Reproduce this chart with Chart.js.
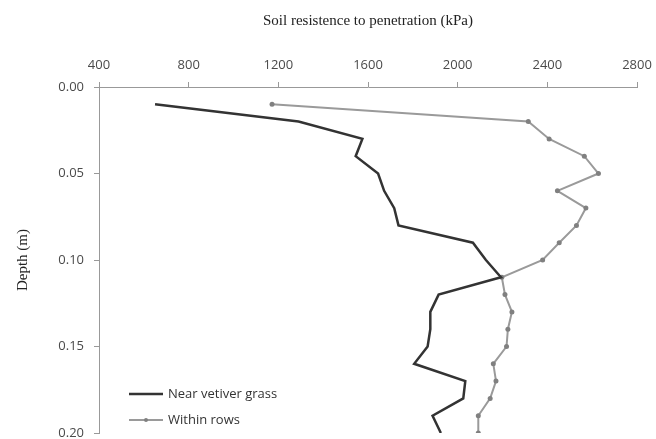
<!DOCTYPE html>
<html>
<head>
<meta charset="utf-8">
<title>Soil resistance profile</title>
<script src="https://cdn.jsdelivr.net/npm/chart.js"></script>
<style>
  html, body { margin: 0; padding: 0; background: #fff; }
  #wrap { width: 656px; height: 439px; }
</style>
</head>
<body>
<div id="wrap"><canvas id="profileChart" width="656" height="439"></canvas></div>
<script>
const depths = [0.01, 0.02, 0.03, 0.04, 0.05, 0.06, 0.07, 0.08, 0.09, 0.10,
                0.11, 0.12, 0.13, 0.14, 0.15, 0.16, 0.17, 0.18, 0.19, 0.20];
const nearVetiver = [650, 1290, 1575, 1545, 1645, 1672, 1717, 1736, 2068, 2126,
                     2193, 1915, 1878, 1878, 1866, 1806, 2034, 2025, 1888, 1925];
const withinRows = [1172, 2315, 2408, 2565, 2628, 2445, 2572, 2530, 2453, 2379,
                    2197, 2211, 2242, 2224, 2218, 2159, 2171, 2145, 2092, 2092];
const seriesNames = ['Near vetiver grass', 'Within rows'];
const xTitle = 'Soil resistence to penetration (kPa)';
const yTitle = 'Depth (m)';

const toPoints = (values) => values.map((v, i) => ({ x: v, y: depths[i] }));

const tickFont = { family: 'Open Sans', size: 13 };
const titleFont = { family: 'Liberation Serif', size: 15 };

// legend sits inside the plot, bottom left
const insideLegend = {
  id: 'insideLegend',
  afterDraw(chart) {
    const ctx = chart.ctx;
    const x0 = 129, x1 = 163;
    const rows = [394, 420];
    ctx.save();
    ctx.font = '13px "Open Sans"';
    ctx.textBaseline = 'middle';
    chart.data.datasets.forEach((ds, i) => {
      const y = rows[i];
      ctx.strokeStyle = ds.borderColor;
      ctx.lineWidth = ds.borderWidth;
      ctx.beginPath();
      ctx.moveTo(x0, y);
      ctx.lineTo(x1, y);
      ctx.stroke();
      if (ds.pointRadius > 0) {
        ctx.fillStyle = ds.pointBackgroundColor;
        ctx.beginPath();
        ctx.arc((x0 + x1) / 2, y, 2, 0, Math.PI * 2);
        ctx.fill();
      }
      ctx.fillStyle = '#333';
      ctx.fillText(ds.label, 168, y);
    });
    ctx.restore();
  }
};

// let end labels hang over the edge instead of shrinking the plot
const noOverhang = (scale) => {
  scale.paddingLeft = 0;
  scale.paddingRight = 0;
  scale.paddingTop = 0;
  scale.paddingBottom = 0;
};

new Chart(document.getElementById('profileChart'), {
  type: 'line',
  data: {
    datasets: [
      {
        label: seriesNames[0],
        data: toPoints(nearVetiver),
        borderColor: '#333333',
        borderWidth: 2.5,
        pointRadius: 0,
        tension: 0,
      },
      {
        label: seriesNames[1],
        data: toPoints(withinRows),
        borderColor: '#9a9a9a',
        borderWidth: 2,
        pointRadius: 2.5,
        pointBackgroundColor: '#808080',
        pointBorderWidth: 0,
        tension: 0,
      },
    ],
  },
  options: {
    responsive: false,
    animation: false,
    layout: { padding: { left: 0, top: 0, right: 19, bottom: 6 } },
    plugins: {
      legend: { display: false },
      tooltip: { enabled: false },
    },
    scales: {
      x: {
        type: 'linear',
        position: 'top',
        min: 400,
        max: 2800,
        ticks: {
          stepSize: 400,
          font: tickFont,
          color: '#4a4a4a',
          padding: 9,
          callback: (v) => String(v),
        },
        grid: { drawOnChartArea: false, tickLength: 5, color: '#999' },
        border: { color: '#999' },
        title: { display: true, text: xTitle, font: titleFont, color: '#222', padding: { top: 12, bottom: 12 } },
        afterFit(scale) { scale.height = 87; noOverhang(scale); },
      },
      y: {
        type: 'linear',
        reverse: true,
        min: 0,
        max: 0.2,
        ticks: {
          stepSize: 0.05,
          font: tickFont,
          color: '#4a4a4a',
          padding: 10,
          callback: (v) => v.toFixed(2),
        },
        grid: { drawOnChartArea: false, tickLength: 5, color: '#999' },
        border: { color: '#999' },
        title: { display: true, text: yTitle, font: titleFont, color: '#222', padding: { top: 14, bottom: 14 } },
        afterFit(scale) { scale.width = 99; noOverhang(scale); },
      },
    },
  },
  plugins: [insideLegend],
});
</script>
</body>
</html>
